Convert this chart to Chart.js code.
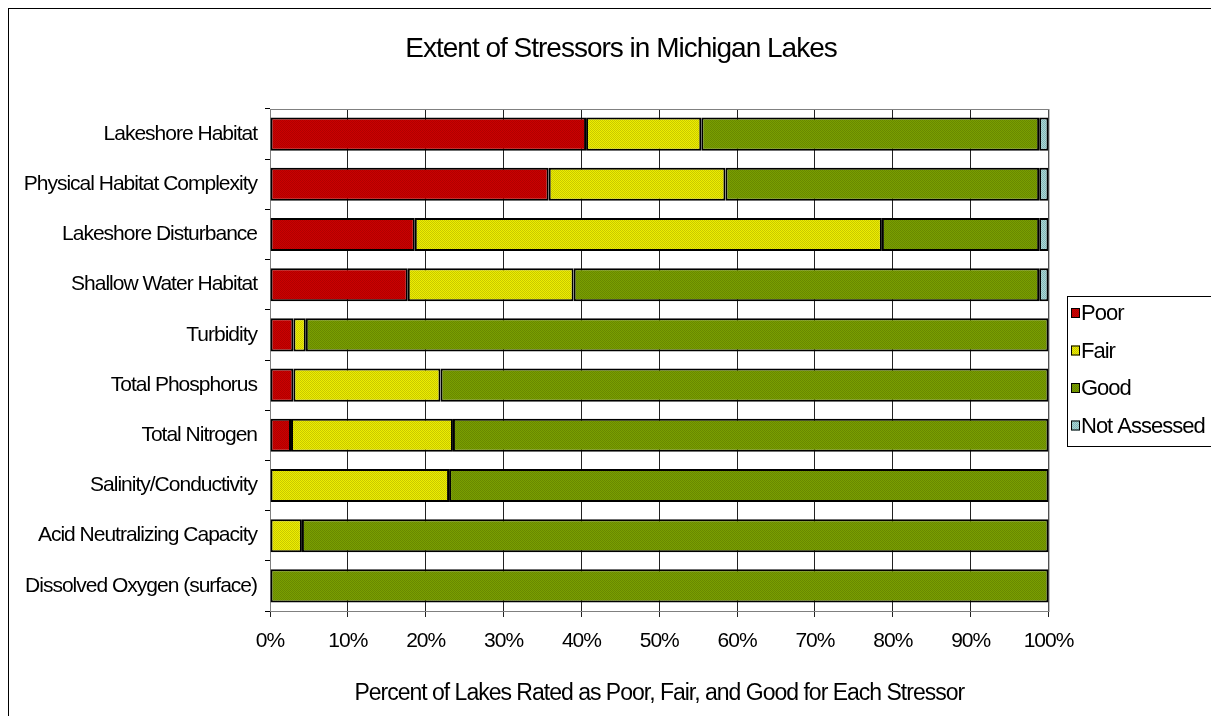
<!DOCTYPE html>
<html>
<head>
<meta charset="utf-8">
<title>Extent of Stressors in Michigan Lakes</title>
<script src="https://cdn.jsdelivr.net/npm/chart.js@4.4.1/dist/chart.umd.min.js"></script>
<style>
  html, body { margin: 0; padding: 0; background: #fff; overflow: hidden; }
</style>
</head>
<body>
<canvas id="stressChart" width="1211" height="716"></canvas>
<script>
const stressors = [
  "Lakeshore Habitat",
  "Physical Habitat Complexity",
  "Lakeshore Disturbance",
  "Shallow Water Habitat",
  "Turbidity",
  "Total Phosphorus",
  "Total Nitrogen",
  "Salinity/Conductivity",
  "Acid Neutralizing Capacity",
  "Dissolved Oxygen (surface)",
];
const poor = [40.6, 35.8, 18.6, 17.7, 3.0, 3.0, 2.7, null, null, null];
const fair = [14.8, 22.7, 60.0, 21.3, 1.6, 18.9, 20.8, 23.0, 4.1, null];
const good = [43.4, 40.3, 20.2, 59.8, 95.4, 78.1, 76.5, 77.0, 95.9, 100];
const notAssessed = [1.2, 1.2, 1.2, 1.2, null, null, null, null, null, null];
const xTicks = [0, 10, 20, 30, 40, 50, 60, 70, 80, 90, 100];

// small dithered fills like the old spreadsheet patterns
function dither(c1, c2) {
  const pc = document.createElement("canvas");
  pc.width = 2;
  pc.height = 2;
  const p = pc.getContext("2d");
  p.fillStyle = c1;
  p.fillRect(0, 0, 2, 2);
  p.fillStyle = c2;
  p.fillRect(0, 0, 1, 1);
  p.fillRect(1, 1, 1, 1);
  return p.createPattern(pc, "repeat");
}

// the original text is squeezed, so pull the letters together a bit
const tightText = {
  id: "tightText",
  beforeLayout(chart) { chart.ctx.letterSpacing = "-1px"; },
  afterLayout(chart) {
    // centre the title on the whole picture, not on the plot + padding
    chart.titleBlock.left = 0;
    chart.titleBlock.right = 1242;
  },
  beforeDraw(chart) { chart.ctx.letterSpacing = "-1px"; },
};

const frame = {
  id: "frame",
  beforeDatasetsDraw(chart) {
    const { ctx, chartArea: a } = chart;
    ctx.save();
    ctx.strokeStyle = "#808080";
    ctx.lineWidth = 1;
    ctx.strokeRect(a.left + 0.5, a.top + 0.5, a.right - a.left, a.bottom - a.top);
    ctx.restore();
  },
  afterDraw(chart) {
    const ctx = chart.ctx;
    ctx.save();
    // outer chart border
    ctx.strokeStyle = "#000";
    ctx.lineWidth = 1;
    ctx.strokeRect(8.5, 8.5, 1400, 1000);

    // legend
    ctx.fillStyle = "#fff";
    ctx.fillRect(1067.5, 296.5, 200, 150);
    ctx.strokeRect(1067.5, 296.5, 200, 150);
    ctx.font = "22px 'Liberation Sans', Arial, sans-serif";
    ctx.textBaseline = "middle";
    ctx.textAlign = "left";
    chart.data.datasets.forEach((ds, i) => {
      const cy = 313 + i * 37.5;
      ctx.fillStyle = ds.backgroundColor;
      ctx.fillRect(1071, cy - 5, 9, 10);
      ctx.strokeStyle = "#000";
      ctx.strokeRect(1071.5, cy - 4.5, 8, 9);
      ctx.fillStyle = "#000";
      ctx.fillText(ds.label, 1081, cy + 1);
    });
    ctx.restore();
  },
};

Chart.defaults.font.family = "'Liberation Sans', Arial, sans-serif";
Chart.defaults.color = "#000";

const ctx = document.getElementById("stressChart").getContext("2d");
const barStyle = {
  borderColor: "#000",
  borderWidth: 2,
  borderSkipped: false,
  barPercentage: 0.66,
  categoryPercentage: 1,
};

const chart = new Chart(ctx, {
  type: "bar",
  data: {
    labels: stressors,
    datasets: [
      { label: "Poor", data: poor, backgroundColor: dither("#cc0000", "#b00000"), ...barStyle },
      { label: "Fair", data: fair, backgroundColor: dither("#eeee00", "#c8c800"), ...barStyle },
      { label: "Good", data: good, backgroundColor: dither("#7a9f00", "#688800"), ...barStyle },
      { label: "Not Assessed", data: notAssessed, backgroundColor: dither("#a8d8d8", "#84b4b4"), ...barStyle },
    ],
  },
  options: {
    indexAxis: "y",
    responsive: false,
    animation: false,
    devicePixelRatio: 1,
    layout: { padding: { left: 0, right: 162.5, top: 0, bottom: 0 } },
    scales: {
      x: {
        stacked: true,
        min: 0,
        max: 100,
        afterBuildTicks: (scale) => { scale.ticks = xTicks.map((v) => ({ value: v })); },
        afterFit: (scale) => { scale.height = 105; },
        ticks: {
          callback: (v) => v + "%",
          font: { size: 21 },
          padding: 12,
          maxRotation: 0,
        },
        grid: { color: "#222", lineWidth: 1, tickLength: 6 },
        border: { color: "#000", width: 1 },
        title: {
          display: true,
          text: "Percent of Lakes Rated as Poor, Fair, and Good for Each Stressor",
          font: { size: 23 },
          padding: { top: 0, bottom: 9 },
        },
      },
      y: {
        stacked: true,
        afterFit: (scale) => { scale.width = 270; },
        ticks: { font: { size: 21 }, padding: 8, autoSkip: false },
        grid: { drawOnChartArea: false, tickLength: 5, color: "#000", offset: true },
        border: { color: "#000", width: 1 },
      },
    },
    plugins: {
      legend: { display: false },
      tooltip: { enabled: false },
      title: {
        display: true,
        text: "Extent of Stressors in Michigan Lakes",
        font: { size: 28, weight: "normal" },
        padding: { top: 32, bottom: 43.4 },
      },
    },
  },
  plugins: [tightText, frame],
});
</script>
</body>
</html>
